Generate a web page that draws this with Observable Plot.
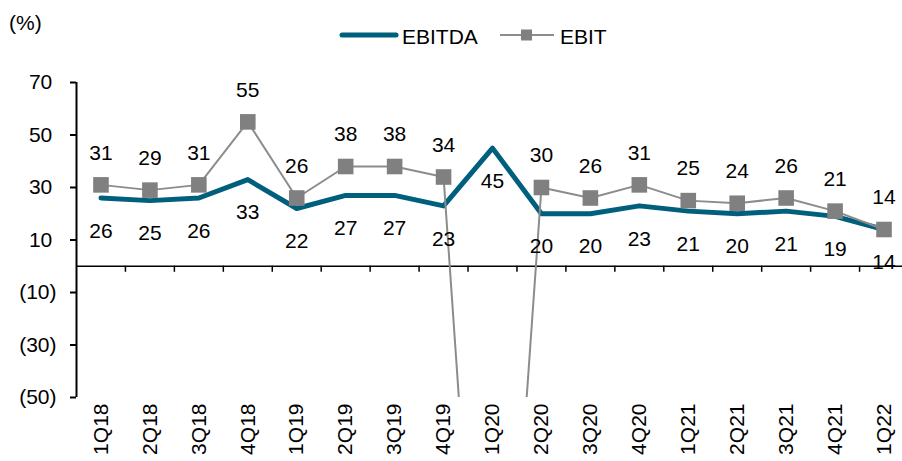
<!DOCTYPE html>
<html>
<head>
<meta charset="utf-8">
<script src="https://cdn.jsdelivr.net/npm/d3@7"></script>
<script src="https://cdn.jsdelivr.net/npm/@observablehq/plot@0.6"></script>
<style>
  body { margin: 0; background: #fff; font-family: "Liberation Sans", Arial, sans-serif; color: #000; }
  #wrap { position: relative; width: 902px; height: 461px; overflow: hidden; }
  .txt { position: absolute; font-size: 21px; line-height: 1; white-space: nowrap; }
  #chart { position: absolute; left: 0; top: 60px; }
  svg.sw { position: absolute; }
</style>
</head>
<body>
<div id="wrap">
  <div class="txt" id="unit" style="left:9px; top:12px;">(%)</div>
  <svg class="sw" style="left:338px; top:28px;" width="62" height="14">
    <line x1="4" y1="7" x2="58" y2="7" stroke="#005f7d" stroke-width="5" stroke-linecap="round"/>
  </svg>
  <div class="txt" style="left:402px; top:26px;">EBITDA</div>
  <svg class="sw" style="left:500px; top:25px;" width="54" height="20">
    <line x1="0" y1="10" x2="54" y2="10" stroke="#8c8c8c" stroke-width="2"/>
    <rect x="21" y="4.5" width="11" height="11" fill="#808080"/>
  </svg>
  <div class="txt" style="left:560px; top:26px;">EBIT</div>
  <div id="chart"></div>
</div>
<script>
// ---- data ----
const categories = ["1Q18","2Q18","3Q18","4Q18","1Q19","2Q19","3Q19","4Q19","1Q20","2Q20","3Q20","4Q20","1Q21","2Q21","3Q21","4Q21","1Q22"];
const ebitda = [26, 25, 26, 33, 22, 27, 27, 23, 45, 20, 20, 23, 21, 20, 21, 19, 14];
const ebit   = [31, 29, 31, 55, 26, 38, 38, 34, -235, 30, 26, 31, 25, 24, 26, 21, 14];
const yTicks = [70, 50, 30, 10, -10, -30, -50];
const yDomain = [-50, 70];

// ---- build rows ----
const rows = categories.map((c, i) => ({i, cat: c, ebitda: ebitda[i], ebit: ebit[i]}));
const visibleEbit = rows.filter(d => d.ebit >= yDomain[0] && d.ebit <= yDomain[1]);
const boundaries = categories.slice(1).map((_, i) => i + 0.5);
const fmt = d => d < 0 ? `(${-d})` : `${d}\u2009`;

const teal = "#005f7d";
const grayLine = "#8c8c8c";
const grayMark = "#808080";
const fs = 21;

const chart = Plot.plot({
  width: 902,
  height: 401,
  marginLeft: 76,
  marginRight: -6,
  marginTop: 22,
  marginBottom: 64,
  style: {fontFamily: "'Liberation Sans', Arial, sans-serif", fontSize: fs + "px", color: "#000", background: "transparent"},
  x: {type: "linear", domain: [-0.5, categories.length - 0.5], axis: null},
  y: {type: "linear", domain: yDomain, axis: null},
  marks: [
    // y axis
    Plot.ruleX([-0.5], {x: d => d, y1: yDomain[0], y2: yDomain[1], stroke: "#000", strokeWidth: 2}),
    Plot.axisY({ticks: yTicks, tickFormat: fmt, tickSize: 6, tickPadding: 14, fontSize: fs, strokeWidth: 2}),
    // zero line + category ticks
    Plot.ruleY([0], {y: d => d, stroke: "#000", strokeWidth: 1.5}),
    Plot.ruleX(boundaries, {x: d => d, y1: 0, y2: -2.3, stroke: "#000", strokeWidth: 1.5}),
    // category labels
    Plot.text(rows, {x: "i", text: "cat", frameAnchor: "bottom", rotate: -90, textAnchor: "end", lineAnchor: "middle", dy: 6, fontSize: fs}),
    // series
    Plot.line(rows, {x: "i", y: "ebitda", stroke: teal, strokeWidth: 5, strokeLinejoin: "round", strokeLinecap: "round"}),
    Plot.line(rows, {x: "i", y: "ebit", stroke: grayLine, strokeWidth: 2, clip: true}),
    Plot.dot(visibleEbit, {x: "i", y: "ebit", symbol: "square", r: 8.8, fill: grayMark, stroke: "none"}),
    // value labels
    Plot.text(visibleEbit, {x: "i", y: "ebit", text: d => String(d.ebit), dy: -32, fontSize: fs, fill: "#000"}),
    Plot.text(rows, {x: "i", y: "ebitda", text: d => String(d.ebitda), dy: 33, fontSize: fs, fill: "#000"})
  ]
});
document.getElementById("chart").appendChild(chart);
</script>
</body>
</html>
